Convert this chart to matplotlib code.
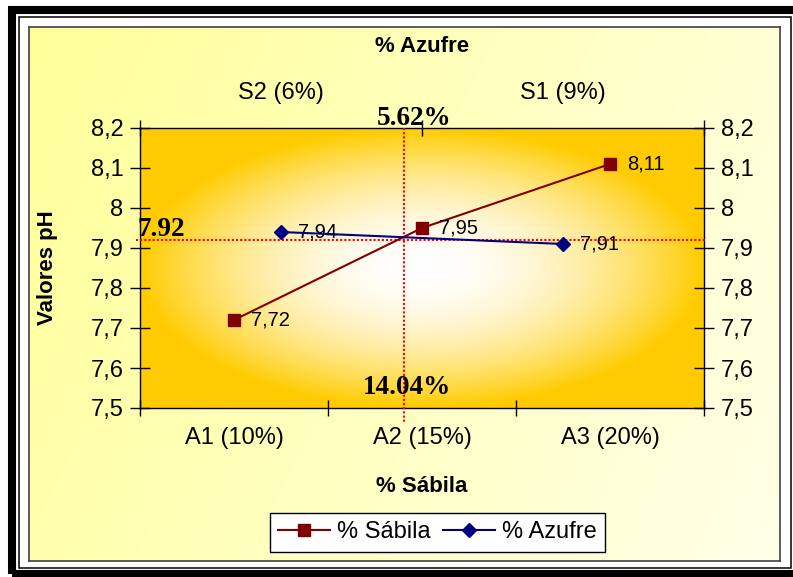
import numpy as np
import matplotlib
matplotlib.use('Agg')
import matplotlib.pyplot as plt
from matplotlib.patches import Rectangle
from matplotlib.ticker import FuncFormatter

# datos
sabila_cats = ['A1 (10%)', 'A2 (15%)', 'A3 (20%)']
sabila_ph = [7.72, 7.95, 8.11]
azufre_cats = ['S2 (6%)', 'S1 (9%)']
azufre_ph = [7.94, 7.91]
y_ticks = [7.5, 7.6, 7.7, 7.8, 7.9, 8.0, 8.1, 8.2]

# punto de cruce (lineas de referencia)
cross_x = 0.905
cross_y = 7.92
cross_labels = ['5.62%', '14.04%', '7.92']

plt.rcParams['font.family'] = ['Liberation Sans', 'DejaVu Sans']

W, H = 793, 577
fig = plt.figure(figsize=(W / 100, H / 100), dpi=100)
fig.patch.set_facecolor('white')


def fx(x):
    return x / W


def fy(y):
    return 1 - y / H


# marco exterior
fig.patches.append(Rectangle((fx(12), fy(574)), 785 / W, 564 / H, fill=False,
                             edgecolor='black', linewidth=5.8,
                             transform=fig.transFigure, zorder=0))
fig.patches.append(Rectangle((fx(18.5), fy(568)), 772.5 / W, 551.5 / H, fill=False,
                             edgecolor='black', linewidth=1.1,
                             transform=fig.transFigure, zorder=0))

# fondo del area del grafico
bg = fig.add_axes([fx(29), fy(561), (780 - 29) / W, (561 - 27) / H], zorder=-1)
gy, gx = np.mgrid[0:1:200j, 0:1:300j]
t = 0.75 * gx + 0.25 * gy
c0 = np.array([255, 255, 153]) / 255
c1 = np.array([255, 255, 232]) / 255
bg.imshow(c0 + (c1 - c0) * t[..., None], aspect='auto', extent=[0, 1, 0, 1])
bg.set_xticks([])
bg.set_yticks([])
for s in bg.spines.values():
    s.set_color('#404040')
    s.set_linewidth(1.2)

# area de trazado
ax = fig.add_axes([fx(140), fy(408), 564 / W, 280 / H])
ax.set_xlim(-0.5, 2.5)
ax.set_ylim(7.5, 8.2)
ry, rx = np.mgrid[-1:1:280j, -1:1:564j]
r = np.clip(np.sqrt(rx ** 2 + ry ** 2), 0, 1) ** 1.9
white = np.array([1.0, 1.0, 1.0])
gold = np.array([255, 204, 0]) / 255
ax.imshow(white + (gold - white) * r[..., None], aspect='auto',
          extent=(-0.5, 2.5, 7.5, 8.2), zorder=0)

x_s = np.arange(len(sabila_cats))
l1, = ax.plot(x_s, sabila_ph, color='#800000', marker='s', markersize=8,
              linewidth=1.5, label='% Sábila', zorder=4)
for xi, v in zip(x_s, sabila_ph):
    ax.annotate(f'{v:.2f}'.replace('.', ','), (xi, v), xytext=(12, 0),
                textcoords='offset points', va='center', fontsize=14.5, zorder=5)

ax.set_xticks([-0.5, 0.5, 1.5, 2.5])
ax.set_xticklabels([])
ax.set_xticks(x_s, minor=True)
ax.set_xticklabels(sabila_cats, minor=True)
ax.tick_params(axis='x', which='major', direction='inout', length=12, width=1)
ax.tick_params(axis='x', which='minor', length=0, pad=14, labelsize=17)
ax.set_yticks(y_ticks)
ax.yaxis.set_major_formatter(FuncFormatter(lambda v, p: f'{round(v, 1):g}'.replace('.', ',')))
ax.tick_params(axis='y', direction='inout', length=14, width=1, left=True, right=True,
               labelleft=True, labelright=True, labelsize=17, pad=5)
for s in ax.spines.values():
    s.set_linewidth(1.0)

# lineas de referencia
ax.plot([cross_x, cross_x], [8.2, 7.46], color='red', linestyle=(0, (1, 1)),
        linewidth=1.5, clip_on=False, zorder=3)
ax.plot([-0.52, 2.505], [cross_y, cross_y], color='red', linestyle=(0, (1, 1)),
        linewidth=1.5, clip_on=False, zorder=3)

# eje superior
ax2 = ax.twiny()
ax2.set_xlim(-0.5, 1.5)
x_a = np.arange(len(azufre_cats))
l2, = ax2.plot(x_a, azufre_ph, color='#000080', marker='D', markersize=7,
               linewidth=1.5, label='% Azufre', zorder=4)
for xi, v in zip(x_a, azufre_ph):
    ax2.annotate(f'{v:.2f}'.replace('.', ','), (xi, v), xytext=(12, 0),
                 textcoords='offset points', va='center', fontsize=14.5)
ax2.set_xticks([-0.5, 0.5, 1.5])
ax2.set_xticklabels([])
ax2.set_xticks(x_a, minor=True)
ax2.set_xticklabels(azufre_cats, minor=True)
ax2.tick_params(axis='x', which='major', direction='inout', length=12, width=1)
ax2.tick_params(axis='x', which='minor', length=0, pad=17, labelsize=17)
for s in ax2.spines.values():
    s.set_visible(False)

# textos
fig.text(fx(422), fy(46), '% Azufre', ha='center', va='center', fontsize=16, fontweight='bold')
fig.text(fx(422), fy(487), '% Sábila', ha='center', va='center', fontsize=16, fontweight='bold')
fig.text(fx(47), fy(268), 'Valores pH', ha='center', va='center', rotation=90,
         fontsize=16, fontweight='bold')
serif = dict(family='Liberation Serif', fontweight='bold', fontsize=19.5)
fig.text(fx(414), fy(118), cross_labels[0], ha='center', va='center', **serif)
fig.text(fx(407), fy(388), cross_labels[1], ha='center', va='center', **serif)
fig.text(fx(161), fy(229), cross_labels[2], ha='center', va='center', **serif)

leg = fig.legend([l1, l2], ['% Sábila', '% Azufre'], loc='center',
                 bbox_to_anchor=(fx(437.5), fy(532.5)), ncol=2, fontsize=17,
                 frameon=True, fancybox=False, edgecolor='black', framealpha=1,
                 handlelength=2.2, handletextpad=0.3, columnspacing=0.55,
                 borderpad=0.35, numpoints=1)
leg.get_frame().set_linewidth(1.0)

fig.savefig('out.png', dpi=100)
